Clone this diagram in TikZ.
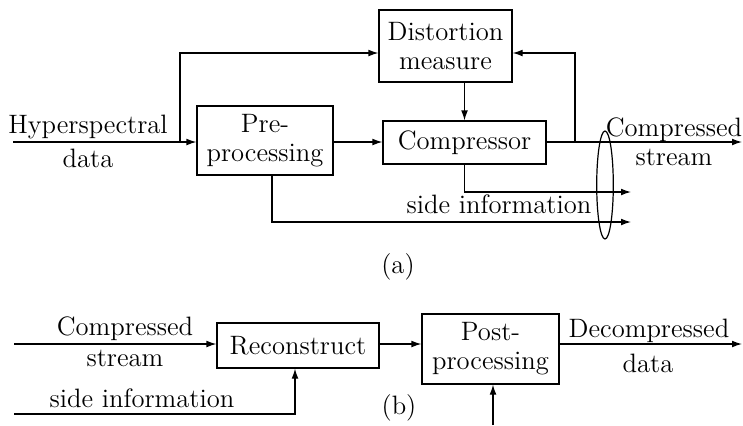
\documentclass[tikz,border=0pt]{standalone}
\usetikzlibrary{arrows.meta,shapes.geometric,calc}
\newcommand\myfs{\fontsize{13.3}{14.5}\selectfont}
\begin{document}
\begin{tikzpicture}[x=0.5pt,y=-0.5pt, line width=0.6pt,
  >={Latex[length=5pt,width=3.4pt]},
  box/.style={draw, align=center, inner sep=0pt, font=\myfs},
  lbl/.style={font=\myfs, inner sep=0pt, anchor=base}]
\useasboundingbox (0,0) rectangle (743,425);
% (a)
\node[box, minimum width=66.5pt, minimum height=36pt] (dist) at (445.5,46) {Distortion\\measure};
\node[box, minimum width=81.5pt, minimum height=21.5pt] (comp) at (464.5,142.5) {Compressor};
\node[box, minimum width=68pt, minimum height=34.5pt] (pre) at (265,140.5) {Pre-\\processing};
\node[draw, ellipse, minimum width=8.3pt, minimum height=54pt, inner sep=0pt] (grp) at (605,185) {};
\coordinate (in) at (13,142);
\coordinate (br1) at (180,142);
\coordinate (br2) at (575,142);
\coordinate (out) at (742,142);
\coordinate (s1) at (631,192);
\coordinate (s2) at (631,222);
\coordinate (dl) at ($(dist.west)+(0,7)$);
\coordinate (dr) at ($(dist.east)+(0,7)$);
\coordinate (ps) at ($(pre.south)+(7,0)$);
\draw[->] (in) -- (in -| pre.west);
\draw[->] (br1) |- (dl);
\draw[->] (pre.east |- in) -- (in -| comp.west);
\draw[->] (comp.north |- dist.south) -- (comp.north);
\draw[->] (comp.east |- in) -- (out);
\draw[->] (br2) |- (dr);
\draw[->] (comp.south) |- (s1);
\draw[->] (ps) |- (s2);
\node[lbl] (hyp) at (88,133) {Hyperspectral};
\node[lbl] (hypd) at (88,167) {data};
\node[lbl] (cs1) at (674,136) {Compressed};
\node[lbl] (cs2) at (674,165) {stream};
\node[lbl] (si) at (499,213) {side information};
\node[lbl] (la) at (398,273) {(a)};
% (b)
\node[box, minimum width=81pt, minimum height=22.5pt] (rec) at (298,345.5) {Reconstruct};
\node[box, minimum width=68.5pt, minimum height=35pt] (post) at (490.5,349) {Post-\\processing};
\coordinate (cin) at (14,344);
\coordinate (sin) at (14,414);
\coordinate (dout) at (742,344);
\coordinate (pin) at (493,425);
\coordinate (rs) at ($(rec.south)+(-3,0)$);
\draw[->] (cin) -- (cin -| rec.west);
\draw[->] (sin) -| (rs);
\draw[->] (rec.east |- cin) -- (cin -| post.west);
\draw[->] (post.east |- cin) -- (dout);
\draw[->] (pin) -- (pin |- post.south);
\node[lbl] (bcs1) at (125,335) {Compressed};
\node[lbl] (bcs2) at (125,366) {stream};
\node[lbl] (bsi) at (142,407) {side information};
\node[lbl] (dc1) at (649,337) {Decompressed};
\node[lbl] (dc2) at (648,372) {data};
\node[lbl] (lb) at (399,414) {(b)};
\end{tikzpicture}
\end{document}
